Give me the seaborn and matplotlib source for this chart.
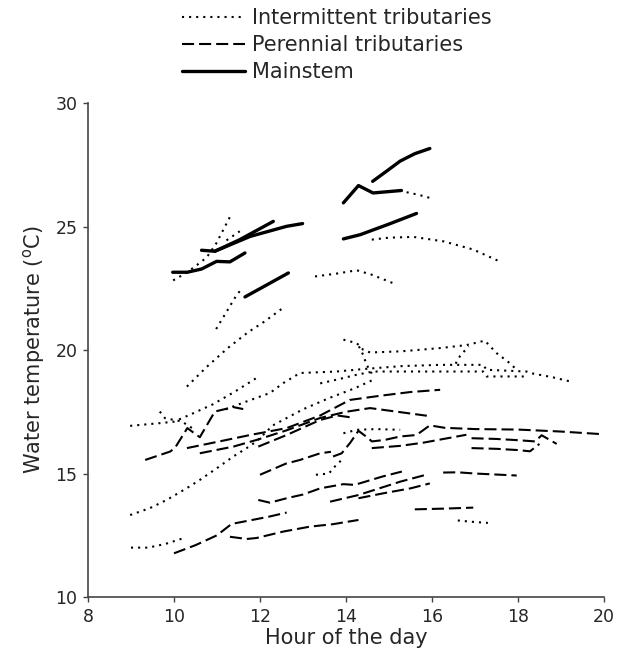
import matplotlib
matplotlib.use('Agg')
import matplotlib.pyplot as plt
import seaborn as sns
import pandas as pd
from matplotlib.lines import Line2D

# each run is (hours, temperatures)
mainstem = [
    ([9.97, 10.31, 10.64, 10.99, 11.3, 11.65], [23.15, 23.15, 23.28, 23.59, 23.57, 23.93]),
    ([10.64, 10.95, 11.53, 12.31], [24.04, 24.0, 24.47, 25.21]),
    ([10.95, 11.77, 12.62, 12.99], [24.0, 24.6, 25.01, 25.12]),
    ([11.65, 12.66], [22.15, 23.12]),
    ([13.94, 14.29, 14.63, 15.29], [25.96, 26.66, 26.36, 26.46]),
    ([14.62, 14.95, 15.26, 15.6, 15.95], [26.83, 27.25, 27.65, 27.95, 28.16]),
    ([13.94, 14.33, 15.0, 15.64], [24.5, 24.67, 25.1, 25.53]),
]

intermittent = [
    ([9.98, 10.31, 10.6, 10.76, 10.98, 11.15, 11.3], [22.82, 23.15, 23.53, 23.75, 24.31, 24.88, 25.39]),
    ([11.22, 11.37, 11.53], [24.44, 24.62, 24.81]),
    ([10.98, 11.26, 11.45, 11.57], [20.85, 21.66, 22.21, 22.47]),
    ([10.3, 10.75, 11.25, 11.73, 12.1, 12.5], [18.52, 19.3, 20.08, 20.73, 21.15, 21.66]),
    ([13.28, 13.8, 14.25, 14.6, 15.18], [22.98, 23.1, 23.23, 23.05, 22.65]),
    ([14.6, 15.0, 15.57, 16.27, 16.96, 17.62], [24.47, 24.55, 24.58, 24.4, 24.07, 23.55]),
    ([15.41, 15.7, 15.95], [26.39, 26.28, 26.16]),
    ([9.0, 9.4, 9.8, 10.25], [12.0, 12.0, 12.15, 12.4]),
    ([8.98, 9.44, 9.83, 10.3, 10.6, 11.0, 11.38, 11.69, 11.92, 12.3, 13.0, 13.6, 14.2, 14.7],
     [13.32, 13.6, 13.93, 14.41, 14.74, 15.22, 15.69, 16.03, 16.3, 16.95, 17.6, 18.05, 18.45, 18.85]),
    ([8.98, 9.67, 10.0, 10.37, 10.9, 11.4, 11.92], [16.93, 17.04, 17.1, 17.38, 17.8, 18.3, 18.87]),
    ([9.67, 9.79, 10.18, 10.5], [17.51, 17.24, 17.11, 16.75]),
    ([11.2, 11.69, 12.23, 12.54, 12.93, 13.78, 14.4, 15.3, 16.19, 17.19, 17.27, 18.2, 18.28, 18.8, 19.21],
     [17.6, 17.92, 18.26, 18.66, 19.07, 19.13, 19.23, 19.35, 19.4, 19.4, 19.2, 19.13, 19.07, 18.9, 18.73]),
    ([13.4, 13.78, 14.25, 14.63, 15.3, 16.1, 17.19, 17.27, 18.2],
     [18.65, 18.8, 19.0, 19.13, 19.13, 19.13, 19.13, 18.93, 18.93]),
    ([13.94, 14.25, 14.4, 14.56, 15.3, 16.19, 16.8, 17.23, 17.5, 17.81, 17.97],
     [20.42, 20.28, 20.01, 19.9, 19.95, 20.08, 20.2, 20.38, 19.88, 19.47, 19.2]),
    ([14.3, 14.4, 14.48, 14.6], [20.15, 19.8, 19.4, 19.05]),
    ([16.55, 16.65, 16.85], [19.45, 19.75, 20.15]),
    ([13.3, 13.6, 13.75, 13.9], [14.95, 15.0, 15.3, 15.55]),
    ([13.94, 14.25, 14.7, 15.26], [16.63, 16.77, 16.8, 16.77]),
    ([16.6, 16.9, 17.3], [13.1, 13.05, 13.0]),
]

perennial = [
    ([9.33, 9.91, 10.02, 10.31, 10.6, 10.95, 11.38, 11.61], [15.55, 15.89, 16.03, 16.84, 16.47, 17.51, 17.69, 17.61]),
    ([10.3, 11.0, 11.77, 12.62, 13.4, 14.09, 14.8, 15.5, 16.19], [16.03, 16.28, 16.56, 16.84, 17.35, 17.98, 18.15, 18.3, 18.39]),
    ([10.6, 11.38, 11.92, 12.62, 13.4, 14.0, 14.56, 15.2, 15.88], [15.82, 16.09, 16.36, 16.75, 17.25, 17.5, 17.65, 17.5, 17.34]),
    ([11.96, 12.62, 13.4, 13.8, 14.09], [16.09, 16.56, 17.17, 17.35, 17.28]),
    ([12.0, 12.6, 12.93, 13.4, 13.65], [14.95, 15.4, 15.55, 15.82, 15.88]),
    ([13.7, 13.9, 14.1, 14.29, 14.52, 14.6, 14.9, 15.26, 15.64, 15.95, 16.3, 17.0, 18.0, 19.0, 19.9],
     [15.69, 15.82, 16.25, 16.73, 16.43, 16.3, 16.36, 16.5, 16.56, 16.95, 16.85, 16.8, 16.78, 16.7, 16.6]),
    ([14.6, 15.26, 15.8, 16.8], [16.03, 16.12, 16.25, 16.57]),
    ([16.92, 17.5, 18.0, 18.4, 18.55, 18.9], [16.43, 16.4, 16.35, 16.3, 16.55, 16.2]),
    ([16.92, 17.5, 18.0, 18.28, 18.5], [16.03, 16.0, 15.95, 15.9, 16.2]),
    ([11.96, 12.23, 12.62, 13.0, 13.4, 13.94, 14.2, 14.85, 15.3], [13.93, 13.82, 14.0, 14.15, 14.4, 14.57, 14.54, 14.88, 15.08]),
    ([13.63, 14.29, 15.26, 15.84], [13.86, 14.13, 14.67, 14.94]),
    ([14.29, 14.87, 15.5, 15.95], [14.0, 14.2, 14.4, 14.6]),
    ([16.26, 16.6, 17.0, 17.97], [15.04, 15.05, 15.0, 14.92]),
    ([15.6, 16.3, 16.96], [13.55, 13.58, 13.62]),
    ([10.0, 10.5, 11.0, 11.34, 11.61, 12.2, 12.62], [11.77, 12.1, 12.5, 12.96, 13.05, 13.25, 13.42]),
    ([11.3, 11.69, 11.92, 12.54, 13.16, 13.7, 14.29], [12.44, 12.35, 12.39, 12.65, 12.85, 12.95, 13.12]),
]

groups = ['Intermittent tributaries', 'Perennial tributaries', 'Mainstem']
dash_map = {'Intermittent tributaries': (1, 2.4), 'Perennial tributaries': (5.8, 2.4), 'Mainstem': ''}
width_map = {'Intermittent tributaries': 1.5, 'Perennial tributaries': 1.5, 'Mainstem': 2.4}

rows = []
for kind, segs in zip(groups, [intermittent, perennial, mainstem]):
    for i, (hrs, tmp) in enumerate(segs):
        for h, t in zip(hrs, tmp):
            rows.append({'hour': h, 'temp': t, 'type': kind, 'seg': kind + str(i)})
df = pd.DataFrame(rows)

sns.set_style('ticks')
plt.rcParams['font.family'] = ['DejaVu Sans']

fig = plt.figure(figsize=(6.22, 6.56), dpi=100)
ax = fig.add_axes([0.1415, 0.0899, 0.8295, 0.753])

sns.lineplot(data=df, x='hour', y='temp', units='seg', estimator=None, sort=False,
             style='type', dashes=dash_map, size='type', sizes=width_map,
             color='black', legend=False, ax=ax)

ax.set_xlim(8, 20)
ax.set_ylim(10, 30)
ax.set_xticks([8, 10, 12, 14, 16, 18, 20])
ax.set_yticks([10, 15, 20, 25, 30])
ax.tick_params(labelsize=12.5, length=3.6, width=1, color='#444444', pad=4)
for s in ['top', 'right']:
    ax.spines[s].set_visible(False)
for s in ['left', 'bottom']:
    ax.spines[s].set_color('#444444')
    ax.spines[s].set_linewidth(1.2)
ax.set_xlabel('Hour of the day', fontsize=15, labelpad=2)
ax.set_ylabel(r'Water temperature ($^{\rm o}$C)', fontsize=15, labelpad=6)

handles = [Line2D([], [], color='black', lw=width_map[g], dashes=dash_map[g] if dash_map[g] else (None, None))
           for g in groups]
fig.legend(handles, groups, loc='upper left', bbox_to_anchor=(0.2934, 0.988), frameon=False,
           fontsize=15, handlelength=3.0, handletextpad=0.35, labelspacing=0.35,
           borderpad=0, borderaxespad=0)

fig.savefig('out.png', dpi=100)
